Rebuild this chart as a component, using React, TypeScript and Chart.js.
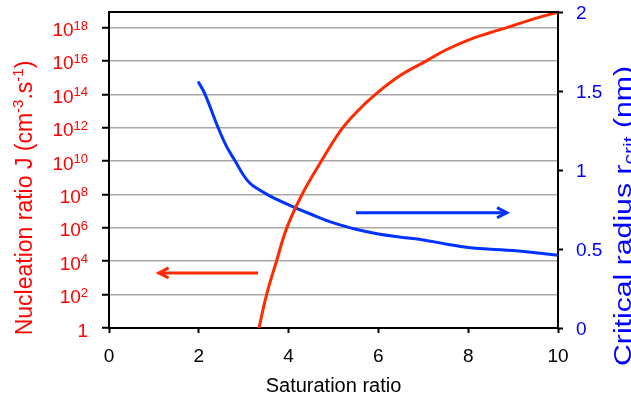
import { useEffect, useRef } from 'react';
import { Chart, registerables } from 'chart.js';

Chart.register(...registerables);

const W = 631;
const H = 398;
const FONT = '"Liberation Sans", Arial, Helvetica, sans-serif';

// Nucleation ratio J (left, log axis)
const saturationJ = [3.34, 3.51, 3.73, 3.96, 4.3, 4.73, 5.15, 5.5, 5.96, 6.5, 7.07, 7.5, 8.0, 8.5, 8.89, 9.5, 10];
const nucleationJ = [1, 1e2, 1e4, 1e6, 1e8, 1e10, 6.3e11, 7.9e12, 1.12e14, 1.41e15, 1e16, 4.5e16, 1.78e17, 5.0e17, 1.05e18, 3.55e18, 8.3e18];

// Critical radius (right axis, nm)
const saturationR = [2.0, 2.14, 2.43, 2.62, 2.81, 3.0, 3.14, 3.29, 3.59, 4.0, 4.5, 5.0, 5.5, 6.0, 6.5, 7.0, 7.5, 8.0, 8.5, 9.0, 9.5, 10];
const criticalRadius = [1.553, 1.479, 1.268, 1.148, 1.057, 0.965, 0.916, 0.884, 0.835, 0.78, 0.72, 0.665, 0.625, 0.595, 0.575, 0.557, 0.532, 0.51, 0.499, 0.49, 0.476, 0.46];

// Axis ticks
const xTickValues = [0, 2, 4, 6, 8, 10];
const leftTickExponents = [0, 2, 4, 6, 8, 10, 12, 14, 16, 18];
const rightTickValues = [0, 0.5, 1, 1.5, 2];
const rightTickLabels = ['0', '0.5', '1', '1.5', '2'];
const leftMax = 8.5e18;

// Arrows (data coordinates): [xFrom, xTo, yValue]
const redArrow = [3.32, 1.11, 2.0e3];
const blueArrow = [5.5, 8.86, 0.73];

const RED_LINE = '#FF2A00';
const BLUE_LINE = '#0033FF';
const RED_TEXT = '#FF0000';
const BLUE_TEXT = '#0000FF';

type Part = { t: string; size: number; dy: number };

function partsWidth(ctx: CanvasRenderingContext2D, parts: Part[]) {
  let w = 0;
  for (const p of parts) {
    ctx.font = `${p.size}px ${FONT}`;
    w += ctx.measureText(p.t).width;
  }
  return w;
}

function drawParts(ctx: CanvasRenderingContext2D, parts: Part[], x: number, y: number) {
  let cx = x;
  for (const p of parts) {
    ctx.font = `${p.size}px ${FONT}`;
    ctx.fillText(p.t, cx, y + p.dy);
    cx += ctx.measureText(p.t).width;
  }
}

function drawArrow(ctx: CanvasRenderingContext2D, x1: number, y1: number, x2: number, y2: number, color: string) {
  const ang = Math.atan2(y2 - y1, x2 - x1);
  const len = 11;
  const spread = 0.48;
  ctx.save();
  ctx.strokeStyle = color;
  ctx.lineWidth = 3;
  ctx.lineCap = 'butt';
  ctx.beginPath();
  ctx.moveTo(x1, y1);
  ctx.lineTo(x2, y2);
  ctx.stroke();
  ctx.lineJoin = 'miter';
  ctx.beginPath();
  ctx.moveTo(x2 - len * Math.cos(ang - spread), y2 - len * Math.sin(ang - spread));
  ctx.lineTo(x2, y2);
  ctx.lineTo(x2 - len * Math.cos(ang + spread), y2 - len * Math.sin(ang + spread));
  ctx.stroke();
  ctx.restore();
}

const decorPlugin = {
  id: 'decor',
  afterDraw(chart: any) {
    const ctx: CanvasRenderingContext2D = chart.ctx;
    const area = chart.chartArea;
    const x = chart.scales.x;
    const yL = chart.scales.yL;
    const yR = chart.scales.yR;
    ctx.save();

    // top border
    ctx.strokeStyle = '#000';
    ctx.lineWidth = 2;
    ctx.beginPath();
    ctx.moveTo(area.left - 1, area.top);
    ctx.lineTo(area.right + 1, area.top);
    ctx.stroke();

    // left tick labels with superscripts
    ctx.fillStyle = RED_TEXT;
    ctx.textAlign = 'left';
    ctx.textBaseline = 'alphabetic';
    for (const e of leftTickExponents) {
      const py = yL.getPixelForValue(Math.pow(10, e));
      const parts: Part[] = e === 0
        ? [{ t: '1', size: 19, dy: 0 }]
        : [{ t: '10', size: 19, dy: 0 }, { t: String(e), size: 13, dy: -6.5 }];
      const w = partsWidth(ctx, parts);
      drawParts(ctx, parts, area.left - 21 - w, py + 8.5);
    }

    // right tick labels
    ctx.fillStyle = BLUE_TEXT;
    ctx.font = `19px ${FONT}`;
    rightTickValues.forEach((v, i) => {
      const py = yR.getPixelForValue(v);
      ctx.fillText(rightTickLabels[i], area.right + 18, py + 7);
    });

    // x title
    ctx.fillStyle = '#000';
    ctx.font = `20px ${FONT}`;
    ctx.textAlign = 'center';
    ctx.fillText('Saturation ratio', (area.left + area.right) / 2, 392);
    ctx.textAlign = 'left';

    // left title (rotated)
    const leftParts: Part[] = [
      { t: 'Nucleation ratio J (cm', size: 23, dy: 0 },
      { t: '-3', size: 15, dy: -9 },
      { t: '.s', size: 23, dy: 0 },
      { t: '-1', size: 15, dy: -9 },
      { t: ')', size: 23, dy: 0 },
    ];
    ctx.fillStyle = RED_TEXT;
    const lw = partsWidth(ctx, leftParts);
    ctx.save();
    ctx.translate(32, 198);
    ctx.rotate(-Math.PI / 2);
    drawParts(ctx, leftParts, -lw / 2, 0);
    ctx.restore();

    // right title (rotated, partly cut by the right edge as in the original)
    const rightParts: Part[] = [
      { t: 'Critical radius r', size: 23, dy: 0 },
      { t: 'crit', size: 16, dy: 4 },
      { t: ' (nm)', size: 23, dy: 0 },
    ];
    ctx.fillStyle = BLUE_TEXT;
    const rw = partsWidth(ctx, rightParts);
    ctx.save();
    ctx.translate(631, 216);
    ctx.rotate(-Math.PI / 2);
    const sx = rw / 300;
    ctx.scale(1 / sx > 0 ? 300 / rw : 1, 1);
    drawParts(ctx, rightParts, -rw / 2, 0);
    ctx.restore();

    // arrows
    const ry = yL.getPixelForValue(redArrow[2]);
    drawArrow(ctx, x.getPixelForValue(redArrow[0]), ry, x.getPixelForValue(redArrow[1]), ry, RED_LINE);
    const by = yR.getPixelForValue(blueArrow[2]);
    drawArrow(ctx, x.getPixelForValue(blueArrow[0]), by, x.getPixelForValue(blueArrow[1]), by, BLUE_LINE);

    ctx.restore();
  },
};

export default function App() {
  const ref = useRef<HTMLCanvasElement>(null);

  useEffect(() => {
    if (!ref.current) return;
    const chart = new Chart(ref.current, {
      type: 'line',
      data: {
        datasets: [
          {
            label: 'J',
            data: saturationJ.map((s, i) => ({ x: s, y: nucleationJ[i] })),
            xAxisID: 'x',
            yAxisID: 'yL',
            borderColor: RED_LINE,
            borderWidth: 3,
            pointRadius: 0,
            fill: false,
            tension: 0.4,
            borderCapStyle: 'round',
          },
          {
            label: 'r',
            data: saturationR.map((s, i) => ({ x: s, y: criticalRadius[i] })),
            xAxisID: 'x',
            yAxisID: 'yR',
            borderColor: BLUE_LINE,
            borderWidth: 3,
            pointRadius: 0,
            fill: false,
            tension: 0.4,
            borderCapStyle: 'round',
          },
        ],
      },
      options: {
        responsive: false,
        devicePixelRatio: 1,
        animation: false,
        layout: { padding: { top: 12, left: 0, right: 0, bottom: 0 } },
        plugins: { legend: { display: false }, tooltip: { enabled: false } },
        scales: {
          x: {
            type: 'linear',
            position: 'bottom',
            min: 0,
            max: 10,
            afterBuildTicks: (s: any) => { s.ticks = xTickValues.map((v) => ({ value: v })); },
            ticks: { color: '#000', font: { size: 19, family: FONT }, padding: 12, maxRotation: 0 },
            grid: { drawOnChartArea: false, tickLength: 5, tickColor: '#000', tickWidth: 2 },
            border: { color: '#000', width: 2 },
            afterFit: (s: any) => { s.height = 70; },
          },
          yL: {
            type: 'logarithmic',
            position: 'left',
            min: 1,
            max: leftMax,
            afterBuildTicks: (s: any) => { s.ticks = leftTickExponents.map((e) => ({ value: Math.pow(10, e) })); },
            ticks: { display: false },
            grid: { color: '#A8A8A8', lineWidth: 1.5, tickLength: 7, tickColor: '#000', tickWidth: 2 },
            border: { color: '#000', width: 2 },
            afterFit: (s: any) => { s.width = 109; },
          },
          yR: {
            type: 'linear',
            position: 'right',
            min: 0,
            max: 2,
            afterBuildTicks: (s: any) => { s.ticks = rightTickValues.map((v) => ({ value: v })); },
            ticks: { display: false },
            grid: { drawOnChartArea: false, tickLength: 5, tickColor: '#000', tickWidth: 2 },
            border: { color: '#000', width: 2 },
            afterFit: (s: any) => { s.width = 73; },
          },
        },
      } as any,
      plugins: [decorPlugin],
    });
    return () => chart.destroy();
  }, []);

  return (
    <div style={{ position: 'absolute', left: 0, top: 0, width: W, height: H, background: '#fff' }}>
      <canvas ref={ref} width={W} height={H} style={{ display: 'block', width: W, height: H }} />
    </div>
  );
}
